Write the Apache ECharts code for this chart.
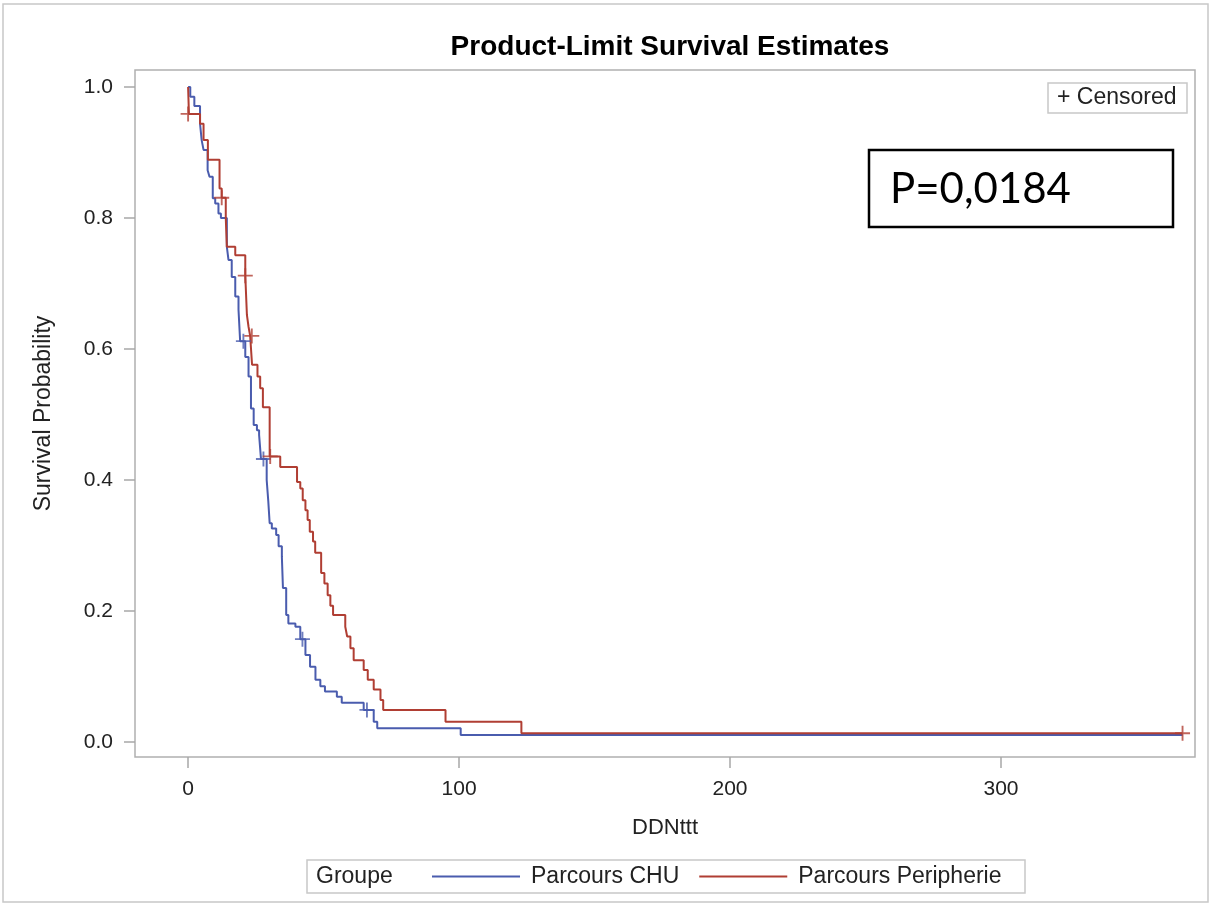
<!DOCTYPE html>
<html>
<head>
<meta charset="utf-8">
<script src="https://cdn.jsdelivr.net/npm/echarts@6/dist/echarts.min.js"></script>
<style>
html,body{margin:0;padding:0;background:#fff;}
#chart{width:1213px;height:906px;}
</style>
</head>
<body>
<div id="chart"></div>
<script>
// ---- Data ----
const chartTitle = 'Product-Limit Survival Estimates';
const xAxisName = 'DDNttt';
const yAxisName = 'Survival Probability';
const groupLabel = 'Groupe';
const seriesNames = ['Parcours CHU', 'Parcours Peripherie'];
const xTicks = [0, 100, 200, 300];
const yTicks = [0, 0.2, 0.4, 0.6, 0.8, 1.0];
const pValueText = 'P=0,0184';

// Parcours CHU: event times and survival after each step
const chuTimes = [0, 0.8, 2.3, 4.4, 5.0, 5.7, 7.2, 7.9, 9.1, 10.0, 11.2, 12.1, 14.3, 14.9, 16.1, 17.4, 18.6, 19.2, 21.1, 22.3, 23.2, 24.2, 25.4, 26.2, 26.9, 29.0, 29.6, 30.1, 30.9, 32.5, 33.4, 34.6, 35.0, 36.2, 37.0, 39.6, 41.4, 43.3, 45.0, 47.0, 48.8, 50.5, 54.9, 56.7, 64.8, 68.5, 69.8, 100.6, 367];
const chuSurv  = [1.0, 0.985, 0.971, 0.944, 0.919, 0.904, 0.873, 0.863, 0.830, 0.822, 0.807, 0.800, 0.756, 0.736, 0.710, 0.680, 0.660, 0.612, 0.588, 0.558, 0.509, 0.484, 0.476, 0.469, 0.432, 0.400, 0.367, 0.334, 0.326, 0.316, 0.299, 0.283, 0.235, 0.194, 0.181, 0.176, 0.157, 0.133, 0.115, 0.095, 0.085, 0.077, 0.069, 0.060, 0.049, 0.031, 0.021, 0.0107, 0.0107];
const chuCensTimes = [20.4, 27.8, 42.2, 66.0];
const chuCensSurv  = [0.612, 0.432, 0.157, 0.049];

// Parcours Peripherie
const periTimes = [0, 0.3, 4.4, 5.7, 7.3, 11.6, 12.4, 13.9, 14.3, 17.4, 21.1, 21.7, 22.3, 22.9, 23.6, 25.6, 26.6, 27.6, 30.1, 34.0, 40.2, 41.4, 42.3, 43.3, 44.1, 44.9, 46.1, 46.9, 49.1, 50.3, 51.5, 52.5, 53.5, 58.0, 58.7, 59.9, 61.1, 64.8, 66.3, 68.5, 71.0, 72.0, 95.0, 123.0, 367];
const periSurv  = [1.0, 0.959, 0.944, 0.919, 0.889, 0.845, 0.831, 0.800, 0.756, 0.743, 0.712, 0.652, 0.634, 0.620, 0.576, 0.558, 0.540, 0.511, 0.436, 0.420, 0.397, 0.387, 0.369, 0.354, 0.339, 0.321, 0.306, 0.289, 0.258, 0.242, 0.224, 0.208, 0.194, 0.176, 0.161, 0.143, 0.125, 0.110, 0.095, 0.080, 0.064, 0.049, 0.031, 0.0133, 0.0133];
const periCensTimes = [0, 12.4, 21.1, 23.5, 30.3, 367];
const periCensSurv  = [0.959, 0.831, 0.712, 0.620, 0.436, 0.0133];

// ---- Build chart ----
const zip = (a, b) => a.map((v, i) => [v, b[i]]);
const blue = '#4a5cae';
const red = '#b03e33';
const plus = 'path://M7,0h2v7h7v2h-7v7h-2v-7h-7v-2h7z';
const font = 'Liberation Sans, Arial, sans-serif';

const chart = echarts.init(document.getElementById('chart'), null, {renderer: 'canvas'});
chart.setOption({
  animation: false,
  backgroundColor: '#ffffff',
  title: {
    text: chartTitle, left: 665, top: 28, textAlign: 'center',
    textStyle: {fontFamily: font, fontSize: 28, fontWeight: 'bold', color: '#000'}
  },
  grid: {left: 135, right: 18, top: 70, bottom: 149, show: true, borderColor: '#b0b0b0', borderWidth: 1.5, backgroundColor: '#fff'},
  xAxis: {
    type: 'value', min: -19.6, max: 371.6,
    name: xAxisName, nameLocation: 'middle', nameGap: 60,
    nameTextStyle: {fontFamily: font, fontSize: 22, color: '#222'},
    axisLine: {show: false, onZero: false},
    splitLine: {show: false},
    axisTick: {show: true, inside: false, length: 11, lineStyle: {color: '#a8a8a8', width: 1.5}, customValues: xTicks},
    axisLabel: {fontFamily: font, fontSize: 21, color: '#222', margin: 22, customValues: xTicks}
  },
  yAxis: {
    type: 'value', min: -0.0229, max: 1.026,
    name: yAxisName, nameLocation: 'middle', nameGap: 80, nameRotate: 90,
    nameTextStyle: {fontFamily: font, fontSize: 23, color: '#222'},
    axisLine: {show: false, onZero: false},
    splitLine: {show: false},
    axisTick: {show: true, inside: false, length: 11, lineStyle: {color: '#a8a8a8', width: 1.5}, customValues: yTicks},
    axisLabel: {fontFamily: font, fontSize: 21, color: '#222', margin: 22, customValues: yTicks,
      formatter: v => v.toFixed(1)}
  },
  legend: {
    data: seriesNames, left: 432, top: 865, padding: 0, itemGap: 20,
    icon: 'rect', itemWidth: 88, itemHeight: 2,
    textStyle: {fontFamily: font, fontSize: 23, color: '#222', padding: [0, 0, 0, 6]}
  },
  series: [
    {name: seriesNames[0], type: 'line', step: 'end', showSymbol: false, symbol: 'none',
      data: zip(chuTimes, chuSurv), itemStyle: {color: blue}, lineStyle: {color: blue, width: 2}, z: 3},
    {name: seriesNames[1], type: 'line', step: 'end', showSymbol: false, symbol: 'none',
      data: zip(periTimes, periSurv), itemStyle: {color: red}, lineStyle: {color: red, width: 2}, z: 4},
    {name: 'censCHU', type: 'scatter', symbol: plus, symbolSize: 15,
      data: zip(chuCensTimes, chuCensSurv), itemStyle: {color: blue}, z: 5},
    {name: 'censPeri', type: 'scatter', symbol: plus, symbolSize: 15,
      data: zip(periCensTimes, periCensSurv), itemStyle: {color: red}, z: 6}
  ],
  graphic: [
    {type: 'rect', shape: {x: 3, y: 4, width: 1205, height: 898}, style: {fill: 'none', stroke: '#c8c8c8', lineWidth: 1.5}, silent: true, z: -10},
    {type: 'rect', shape: {x: 1048, y: 83, width: 139, height: 30}, style: {fill: '#fff', stroke: '#c8c8c8', lineWidth: 1.5}, z: 10},
    {type: 'text', x: 1057, y: 98, style: {text: '+ Censored', fontFamily: font, fontSize: 23, fill: '#222', verticalAlign: 'middle'}, z: 11},
    {type: 'rect', shape: {x: 869, y: 150, width: 304, height: 77}, style: {fill: '#fff', stroke: '#000', lineWidth: 2.5}, z: 10},
    {type: 'text', x: 890, y: 189, style: {text: pValueText, fontFamily: 'Lato, Liberation Sans, sans-serif', fontSize: 42, fill: '#000', verticalAlign: 'middle'}, z: 11},
    {type: 'rect', shape: {x: 307, y: 860, width: 718, height: 33}, style: {fill: 'none', stroke: '#c8c8c8', lineWidth: 1.5}, z: 10},
    {type: 'text', x: 316, y: 876.5, style: {text: groupLabel, fontFamily: font, fontSize: 23, fill: '#222', verticalAlign: 'middle'}, z: 11}
  ]
});
</script>
</body>
</html>
